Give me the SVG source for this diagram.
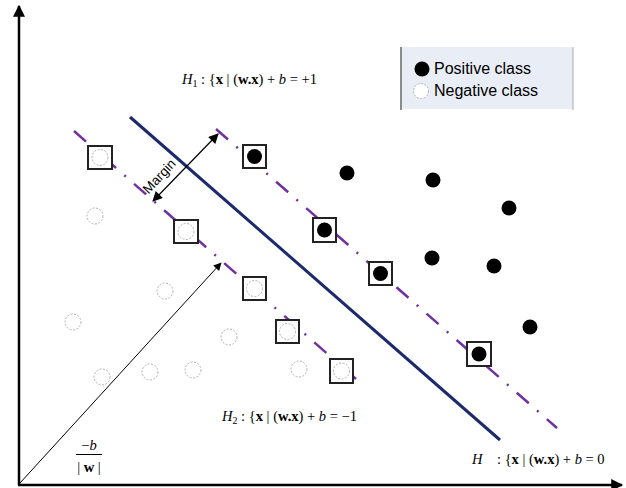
<svg xmlns="http://www.w3.org/2000/svg" width="626" height="488" viewBox="0 0 626 488">
<defs>
<marker id="ah" viewBox="0 0 10 10" refX="9" refY="5" markerWidth="10" markerHeight="8" markerUnits="userSpaceOnUse" orient="auto-start-reverse"><path d="M0,0 L10,5 L0,10 z" fill="#000"/></marker>
<marker id="ahs" viewBox="0 0 10 10" refX="9" refY="5" markerWidth="13" markerHeight="10" markerUnits="userSpaceOnUse" orient="auto-start-reverse"><path d="M0,0 L10,5 L0,10 z" fill="#000"/></marker>
<marker id="axh" viewBox="0 0 10 10" refX="9" refY="5" markerWidth="18" markerHeight="12" markerUnits="userSpaceOnUse" orient="auto"><path d="M0,0 L10,5 L0,10 z" fill="#000"/></marker>
</defs>
<style>
.pos{fill:#000}
.neg{fill:#fff;stroke:#a8a8a8;stroke-width:0.9;stroke-dasharray:2 1.5}
.box{fill:#fff;stroke:#222;stroke-width:2}
.dd{fill:none;stroke:#7030a0;stroke-width:2.5;stroke-dasharray:16 11 2 11}
.f{font-family:"Liberation Serif","Times New Roman",serif;font-size:14.5px;fill:#000}
.i{font-style:italic}
.b{font-weight:bold}
.lg{font-family:"Liberation Sans",Arial,sans-serif;font-size:16px;fill:#000}
</style>
<rect width="626" height="488" fill="#fff"/>
<g id="connectors">
<line id="axis-y" x1="19" y1="485" x2="19" y2="6" stroke="#000" stroke-width="2.5" marker-end="url(#axh)"/>
<line id="axis-x" x1="18" y1="485" x2="622" y2="485" stroke="#000" stroke-width="2.5" marker-end="url(#axh)"/>
<line id="H" x1="130" y1="117" x2="500" y2="440" stroke="#1c2a6b" stroke-width="3"/>
<line id="H1" class="dd" x1="216" y1="129" x2="557" y2="428"/>
<line id="H2" class="dd" x1="74" y1="131" x2="356" y2="379"/>
<line id="margin" x1="153" y1="201" x2="218" y2="134" stroke="#000" stroke-width="1.2" marker-start="url(#ahs)" marker-end="url(#ahs)"/>
<line id="offset" x1="20" y1="483" x2="221" y2="263" stroke="#000" stroke-width="1" marker-end="url(#ah)"/>
</g>
<g id="negatives">
<circle class="neg" cx="95" cy="216" r="8"/>
<circle class="neg" cx="165" cy="291" r="8"/>
<circle class="neg" cx="73" cy="322" r="8"/>
<circle class="neg" cx="229" cy="337" r="8"/>
<circle class="neg" cx="102" cy="377" r="8"/>
<circle class="neg" cx="150" cy="372" r="8"/>
<circle class="neg" cx="193" cy="370" r="8"/>
<circle class="neg" cx="299" cy="369" r="8"/>
</g>
<g id="neg-support">
<rect class="box" x="88" y="146" width="24" height="23"/><circle class="neg" cx="100" cy="157.5" r="8"/>
<rect class="box" x="174" y="220" width="24" height="23"/><circle class="neg" cx="186" cy="231.5" r="8"/>
<rect class="box" x="243" y="277" width="23" height="23"/><circle class="neg" cx="254.5" cy="288.5" r="8"/>
<rect class="box" x="276" y="320" width="23" height="23"/><circle class="neg" cx="287.5" cy="331.5" r="8"/>
<rect class="box" x="330" y="359" width="23" height="24"/><circle class="neg" cx="341.5" cy="371" r="8"/>
</g>
<g id="positives">
<circle class="pos" cx="347" cy="173" r="7.5"/>
<circle class="pos" cx="433" cy="180" r="7.5"/>
<circle class="pos" cx="509" cy="208" r="7.5"/>
<circle class="pos" cx="432" cy="258" r="7.5"/>
<circle class="pos" cx="494" cy="266" r="7.5"/>
<circle class="pos" cx="530" cy="327" r="7.5"/>
</g>
<g id="pos-support">
<rect class="box" x="243" y="145" width="23" height="23"/><circle class="pos" cx="254.5" cy="156.5" r="7.5"/>
<rect class="box" x="313" y="218" width="23" height="24"/><circle class="pos" cx="324.5" cy="230" r="7.5"/>
<rect class="box" x="369" y="262" width="23" height="23"/><circle class="pos" cx="380.5" cy="273.5" r="7.5"/>
<rect class="box" x="467" y="342" width="24" height="24"/><circle class="pos" cx="479" cy="354" r="7.5"/>
</g>
<g id="legend">
<rect x="401" y="47" width="172" height="62" fill="#e9edf5"/>
<line x1="401" y1="47" x2="401" y2="110" stroke="#666" stroke-width="1.5"/>
<line x1="573" y1="47" x2="573" y2="110" stroke="#aaa" stroke-width="1"/>
<circle class="pos" cx="422" cy="69" r="7.5"/>
<text class="lg" x="434" y="74">Positive class</text>
<circle class="neg" cx="421" cy="91" r="7.5"/>
<text class="lg" x="434" y="96">Negative class</text>
</g>
<g id="label-margin">
<text x="0" y="0" transform="translate(160,177) rotate(-47)" text-anchor="middle" dominant-baseline="middle" font-family="Liberation Sans,Arial,sans-serif" font-size="13.5">Margin</text>
</g>
<g id="label-H1">
<text class="f" x="182" y="84"><tspan class="i">H</tspan><tspan font-size="10" dy="3">1</tspan><tspan dy="-3"> : {</tspan><tspan class="b">x</tspan> | (<tspan class="b">w.x</tspan>) + <tspan class="i">b</tspan> = +1</text>
</g>
<g id="label-H2">
<text class="f" x="222" y="421"><tspan class="i">H</tspan><tspan font-size="10" dy="3">2</tspan><tspan dy="-3"> : {</tspan><tspan class="b">x</tspan> | (<tspan class="b">w.x</tspan>) + <tspan class="i">b</tspan> = −1</text>
</g>
<g id="label-H">
<text class="f" x="472" y="464" xml:space="preserve"><tspan class="i">H</tspan>    : {<tspan class="b">x</tspan> | (<tspan class="b">w.x</tspan>) + <tspan class="i">b</tspan> = 0</text>
</g>
<g id="label-offset">
<text class="f" x="89" y="450" text-anchor="middle">−<tspan class="i">b</tspan></text>
<line x1="76" y1="454.5" x2="102" y2="454.5" stroke="#000" stroke-width="1"/>
<text class="f" x="89" y="472" text-anchor="middle">| <tspan class="b">w</tspan> |</text>
</g>
</svg>
